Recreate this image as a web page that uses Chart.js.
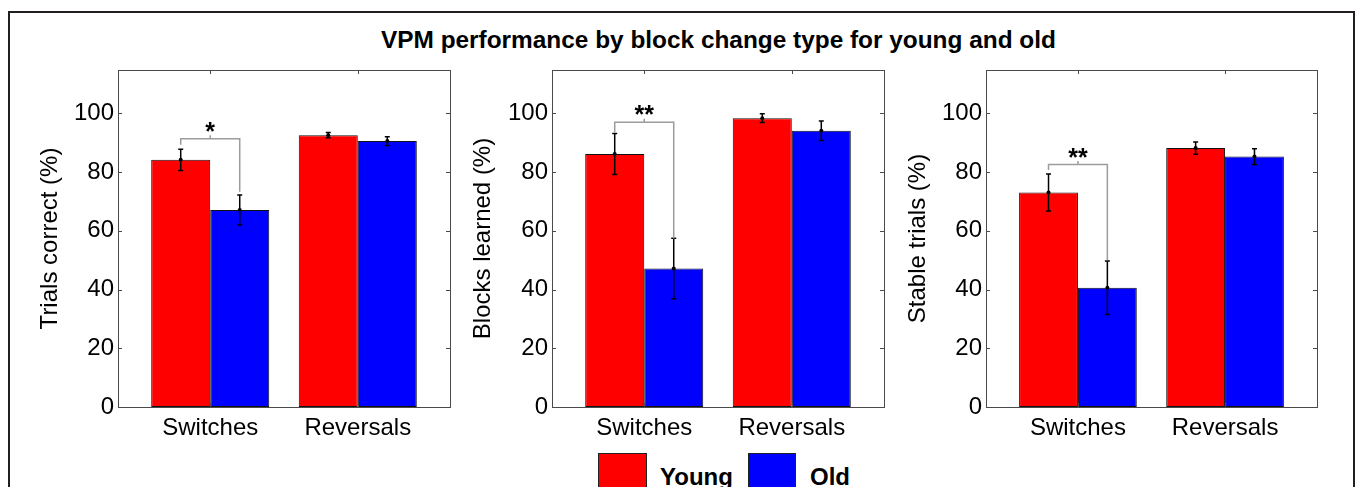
<!DOCTYPE html>
<html>
<head>
<meta charset="utf-8">
<script src="https://cdn.jsdelivr.net/npm/chart.js@4.4.1/dist/chart.umd.min.js"></script>
<style>
html,body{margin:0;padding:0;background:#fff;width:1355px;height:487px;overflow:hidden;font-family:"Liberation Sans",Arial,Helvetica,sans-serif;}
#frame{position:absolute;left:8px;top:11px;width:1347px;height:540px;box-sizing:border-box;border-left:2px solid #231f20;border-top:2px solid #231f20;border-right:2px solid #231f20;}
#title{position:absolute;left:381px;top:28px;font-weight:bold;font-size:24.4px;line-height:24px;color:#000;white-space:nowrap;}
.cv{position:absolute;top:0;}
.lbox{position:absolute;top:453px;height:40px;box-sizing:border-box;border:1px solid #222;}
.ltxt{position:absolute;top:465px;font-weight:bold;font-size:24px;line-height:24px;color:#000;white-space:nowrap;}
</style>
</head>
<body>
<div id="frame"></div>
<div id="title">VPM performance by block change type for young and old</div>
<canvas id="c1" class="cv" width="460" height="440" style="left:0px"></canvas>
<canvas id="c2" class="cv" width="434" height="440" style="left:460px"></canvas>
<canvas id="c3" class="cv" width="437" height="440" style="left:890px"></canvas>
<div class="lbox" style="left:598px;width:49px;background:#ff0000"></div>
<div class="ltxt" style="left:660px">Young</div>
<div class="lbox" style="left:748px;width:48px;background:#0000ff"></div>
<div class="ltxt" style="left:810px">Old</div>
<script>
// ---- data ----
const categories = ['Switches', 'Reversals'];
const categoryPositions = [1, 2];
const seriesNames = ['Young', 'Old'];
const yTicks = [0, 20, 40, 60, 80, 100];
const yAxisTitles = ['Trials correct (%)', 'Blocks learned (%)', 'Stable trials (%)'];

const youngTrials = [84.2, 92.6];
const youngTrialsErr = [3.6, 0.9];
const oldTrials = [67.1, 90.6];
const oldTrialsErr = [5.1, 1.5];

const youngBlocks = [86.2, 98.4];
const youngBlocksErr = [7.0, 1.5];
const oldBlocks = [47.2, 94.1];
const oldBlocksErr = [10.3, 3.3];

const youngStable = [73.1, 88.2];
const youngStableErr = [6.3, 2.1];
const oldStable = [40.6, 85.3];
const oldStableErr = [9.1, 2.7];

// significance brackets: [bracket level, left leg end, right leg end]
const trialsBracket = [91.4, 89.3, 73.3];
const blocksBracket = [97.0, 93.6, 57.4];
const stableBracket = [82.6, 80.7, 50.0];
const bracketLabels = ['*', '**', '**'];

// ---- drawing ----
const FONT = '"Liberation Sans", Arial, Helvetica, sans-serif';

function extrasPlugin(errs, bracket, label) {
  return {
    id: 'extras',
    afterDatasetsDraw(chart) {
      const {ctx, chartArea: a, scales: {x, y}} = chart;
      ctx.save();
      // error bars
      errs.forEach((e, di) => {
        const meta = chart.getDatasetMeta(di);
        meta.data.forEach((bar, i) => {
          const v = chart.data.datasets[di].data[i].y;
          const t = y.getPixelForValue(v + e[i]);
          const b = y.getPixelForValue(v - e[i]);
          ctx.strokeStyle = '#000';
          ctx.lineWidth = 1.5;
          ctx.beginPath();
          ctx.moveTo(bar.x, t); ctx.lineTo(bar.x, b);
          ctx.moveTo(bar.x - 2.5, t); ctx.lineTo(bar.x + 2.5, t);
          ctx.moveTo(bar.x - 2.5, b); ctx.lineTo(bar.x + 2.5, b);
          ctx.stroke();
          ctx.fillStyle = '#000';
          ctx.beginPath();
          ctx.arc(bar.x, y.getPixelForValue(v), 2, 0, Math.PI * 2);
          ctx.fill();
        });
      });
      // significance bracket
      const xl = chart.getDatasetMeta(0).data[0].x;
      const xr = chart.getDatasetMeta(1).data[0].x;
      const xc = x.getPixelForValue(categoryPositions[0]);
      const yb = y.getPixelForValue(bracket[0]);
      ctx.strokeStyle = '#9c9c9c';
      ctx.lineWidth = 1.5;
      ctx.beginPath();
      ctx.moveTo(xl, y.getPixelForValue(bracket[1]));
      ctx.lineTo(xl, yb);
      ctx.lineTo(xr, yb);
      ctx.lineTo(xr, y.getPixelForValue(bracket[2]));
      ctx.moveTo(xc, yb); ctx.lineTo(xc, yb - 3.5);
      ctx.stroke();
      ctx.fillStyle = '#000';
      ctx.font = 'bold 25px ' + FONT;
      ctx.textAlign = 'center';
      ctx.textBaseline = 'alphabetic';
      ctx.fillText(label, xc, yb + 1);
      // axes box
      ctx.strokeStyle = '#4a4a4a';
      ctx.lineWidth = 1;
      ctx.strokeRect(Math.round(a.left) + 0.5, Math.round(a.top) + 0.5,
                     Math.round(a.right - a.left), Math.round(a.bottom - a.top));
      // inward tick marks
      ctx.beginPath();
      yTicks.forEach(v => {
        const p = Math.round(y.getPixelForValue(v)) + 0.5;
        ctx.moveTo(a.left, p); ctx.lineTo(a.left + 4, p);
        ctx.moveTo(a.right, p); ctx.lineTo(a.right - 4, p);
      });
      categoryPositions.forEach(v => {
        const p = Math.round(x.getPixelForValue(v)) + 0.5;
        ctx.moveTo(p, a.top); ctx.lineTo(p, a.top + 4);
        ctx.moveTo(p, a.bottom); ctx.lineTo(p, a.bottom - 4);
      });
      ctx.stroke();
      ctx.restore();
    }
  };
}

function makeChart(id, young, old, youngErr, oldErr, yTitle, yWidth, titlePad, bracket, label) {
  const toPts = arr => arr.map((v, i) => ({x: categoryPositions[i], y: v}));
  return new Chart(document.getElementById(id), {
    type: 'bar',
    data: {
      datasets: [
        {label: seriesNames[0], data: toPts(young), backgroundColor: '#ff0000',
         borderColor: '#111111', borderWidth: 1, borderSkipped: false},
        {label: seriesNames[1], data: toPts(old), backgroundColor: '#0000ff',
         borderColor: '#111111', borderWidth: 1, borderSkipped: false}
      ]
    },
    options: {
      responsive: false,
      animation: false,
      devicePixelRatio: 1,
      layout: {padding: {top: 70, right: 10, left: 0, bottom: 0}},
      categoryPercentage: 0.8,
      barPercentage: 1.0,
      plugins: {legend: {display: false}, tooltip: {enabled: false}, title: {display: false}},
      scales: {
        x: {
          type: 'linear', min: 0.375, max: 2.625, offset: false,
          grid: {display: false, drawTicks: false},
          border: {display: false},
          afterBuildTicks: s => { s.ticks = categoryPositions.map(v => ({value: v})); },
          afterFit: s => { s.height = 33; },
          ticks: {
            padding: 7, color: '#000', font: {family: FONT, size: 24},
            autoSkip: false, maxRotation: 0,
            callback: v => categories[categoryPositions.indexOf(v)]
          }
        },
        y: {
          min: 0, max: 114.8,
          grid: {display: false, drawTicks: false},
          border: {display: false},
          afterBuildTicks: s => { s.ticks = yTicks.map(v => ({value: v})); },
          afterFit: s => { s.width = yWidth; },
          ticks: {padding: 4, color: '#000', font: {family: FONT, size: 24}},
          title: {display: true, text: yTitle, color: '#000',
                  font: {family: FONT, size: 24}, padding: {top: titlePad, bottom: 0}}
        }
      }
    },
    plugins: [extrasPlugin([youngErr, oldErr], bracket, label)]
  });
}

makeChart('c1', youngTrials, oldTrials, youngTrialsErr, oldTrialsErr, yAxisTitles[0], 118, 35.6, trialsBracket, bracketLabels[0]);
makeChart('c2', youngBlocks, oldBlocks, youngBlocksErr, oldBlocksErr, yAxisTitles[1], 92, 8.6, blocksBracket, bracketLabels[1]);
makeChart('c3', youngStable, oldStable, youngStableErr, oldStableErr, yAxisTitles[2], 96, 13.6, stableBracket, bracketLabels[2]);
</script>
</body>
</html>
